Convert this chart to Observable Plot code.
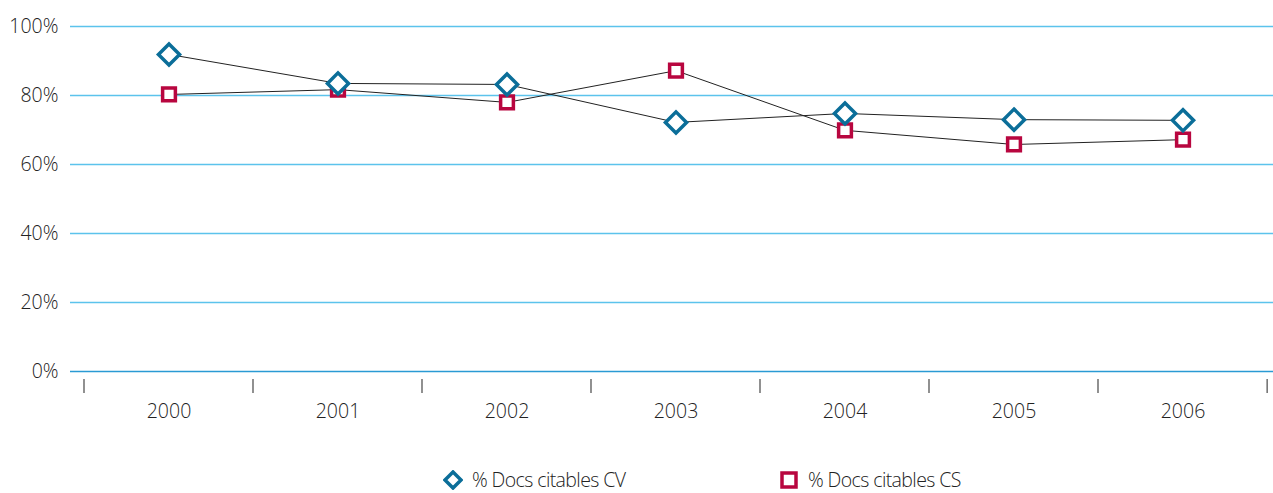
<!DOCTYPE html>
<html>
<head>
<meta charset="utf-8">
<script src="https://cdn.jsdelivr.net/npm/d3@7"></script>
<script src="https://cdn.jsdelivr.net/npm/@observablehq/plot@0.6"></script>
<style>
  body { margin: 0; background: #fff; font-family: "Open Sans", sans-serif; }
  #chart svg { display: block; }
  #legend { height: 43px; font-size: 19.5px; color: #222; font-weight: 300; position: relative; letter-spacing: -0.6px; line-height: 1; }
  .item { position: absolute; display: flex; align-items: center; }
  .item svg { margin-right: 9px; }
</style>
</head>
<body>
<div id="chart"></div>
<div id="legend"></div>
<script>
const years = ["2000", "2001", "2002", "2003", "2004", "2005", "2006"];
const cv = [91.9, 83.5, 83.2, 72.2, 74.8, 73.0, 72.8];
const cs = [80.3, 81.7, 78.0, 87.2, 69.9, 65.8, 67.2];
const yTicks = [0, 20, 40, 60, 80, 100];
const seriesNames = ["% Docs citables CV", "% Docs citables CS"];

const dataCV = years.map((y, i) => ({year: y, value: cv[i]}));
const dataCS = years.map((y, i) => ({year: y, value: cs[i]}));

const x0 = 83, x1 = 1267;
const step = (x1 - x0) / years.length;

const chart = Plot.plot({
  width: 1273,
  height: 450,
  marginTop: 26,
  marginBottom: 79,
  marginLeft: 70,
  marginRight: 0,
  style: { fontFamily: "Open Sans, sans-serif", fontSize: "19.5px", color: "#222", fontWeight: 300, overflow: "visible" },
  x: { type: "band", domain: years, range: [x0, x1], padding: 0, axis: null },
  y: { domain: [0, 100], axis: null },
  marks: [
    Plot.ruleY(yTicks.filter(d => d > 0), { y: d => d, stroke: "#5cc3ec", strokeWidth: 1.3 }),
    Plot.ruleY([0], { stroke: "#2a9ad4", strokeWidth: 1.5 }),
    Plot.text(yTicks, { y: d => d, text: d => d + "%", textAnchor: "end", frameAnchor: "left", dx: -12, fill: "#222" }),
    Plot.ruleX(years, { x: d => d,
      render: (index, scales, values, dims, ctx, next) => {
        const g = d3.create("svg:g");
        const xs = years.map(y => scales.x(y));
        const yb = scales.y(0);
        const pos = xs.concat([xs[xs.length - 1] + step]);
        for (const px of pos) {
          g.append("line").attr("x1", px).attr("x2", px).attr("y1", yb + 8).attr("y2", yb + 22)
            .attr("stroke", "#555").attr("stroke-width", 1.3);
        }
        return g.node();
      }
    }),
    Plot.text(years, { x: d => d, y: () => 0, text: d => d, dy: 40, fill: "#222" }),
    Plot.line(dataCV, { x: "year", y: "value", stroke: "#222", strokeWidth: 1 }),
    Plot.line(dataCS, { x: "year", y: "value", stroke: "#222", strokeWidth: 1 }),
    Plot.dot(dataCS, { x: "year", y: "value", symbol: "square", r: 7.2, stroke: "#b8063f", strokeWidth: 3.5, fill: "white" }),
    Plot.dot(dataCV, { x: "year", y: "value", symbol: "diamond2", r: 9.5, stroke: "#0b6e99", strokeWidth: 3.5, fill: "white" })
  ]
});
document.getElementById("chart").appendChild(chart);

// legend
const legend = document.getElementById("legend");
const items = [
  { name: seriesNames[0], left: 443, icon: '<svg width="20" height="20"><path d="M10,2 L18,10 L10,18 L2,10 Z" fill="white" stroke="#0b6e99" stroke-width="3.5"/></svg>' },
  { name: seriesNames[1], left: 779, icon: '<svg width="20" height="20"><rect x="3" y="3" width="14" height="14" fill="white" stroke="#b8063f" stroke-width="3.5"/></svg>' }
];
for (const it of items) {
  const d = document.createElement("div");
  d.className = "item";
  d.style.left = it.left + "px";
  d.style.top = "20px";
  d.innerHTML = it.icon + "<span>" + it.name + "</span>";
  legend.appendChild(d);
}
</script>
</body>
</html>
